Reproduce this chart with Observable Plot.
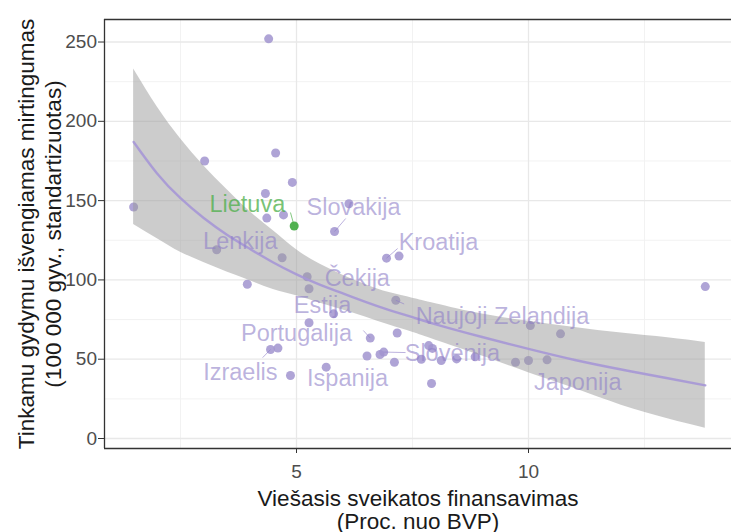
<!DOCTYPE html>
<html>
<head>
<meta charset="utf-8">
<script src="https://cdn.jsdelivr.net/npm/d3@7"></script>
<script src="https://cdn.jsdelivr.net/npm/@observablehq/plot@0.6"></script>
<style>
  html, body { margin: 0; padding: 0; background: #fff; overflow: hidden; }
  svg { display: block; }
</style>
</head>
<body>
<div id="chart"></div>
<script>
// Countries: public health spending (% of GDP) vs treatable mortality (per 100 000, standardised)
const spending  = [1.49, 3.02, 4.40, 4.55, 4.91, 4.33, 4.36, 4.72, 5.82, 6.13,
                   3.28, 4.69, 6.94, 7.21, 3.94, 5.23, 5.27, 5.80, 5.27, 7.14,
                   6.59, 7.17, 4.44, 4.60, 6.52, 6.80, 6.88, 7.11, 4.87, 5.64,
                   7.85, 7.93, 7.69, 8.12, 7.91, 8.45, 8.85, 9.72, 10.0, 10.40,
                   10.04, 10.69, 13.81];
const mortality = [146, 175, 252, 180, 161.5, 154.5, 139, 141, 130.5, 148,
                   119, 114, 113.7, 115, 97.3, 102, 94.4, 78.6, 73, 87.2,
                   63.3, 66.5, 56.1, 57, 52, 53, 54.5, 48.1, 39.7, 45,
                   58.6, 56.8, 50, 49.2, 34.7, 50.2, 51.5, 48.1, 49.2, 49.6,
                   71.2, 66, 95.8];

// Lithuania (highlighted)
const ltSpending  = [4.95];
const ltMortality = [134];

// Smoothed trend and its confidence band
const fitX  = [1.49, 2, 2.5, 3, 3.5, 4, 4.5, 5, 5.5, 6, 6.5, 7, 7.5, 8, 9, 10, 11, 12, 13, 13.81];
const fitY  = [187, 167, 151.5, 139, 128.5, 119.5, 111, 103.5, 97, 91.5, 86, 81, 76.5, 72, 64, 56.5, 49.5, 43.5, 38, 33.5];
const fitLo = [135, 126, 117.5, 111, 105, 99.5, 94, 90, 85.5, 81, 76.5, 71.5, 67, 62, 52, 41.5, 31.5, 21, 12.5, 6.5];
const fitHi = [233, 209, 189, 172, 157, 143, 131, 119, 110, 103, 97, 92, 88.5, 85, 78.5, 74, 70, 66.5, 63.5, 60.5];

// Country labels
const labelNames = ["Lietuva", "Slovakija", "Lenkija", "Kroatija", "Čekija", "Estija",
                    "Portugalija", "Izraelis", "Ispanija", "Slovėnija", "Naujoji Zelandija", "Japonija"];
const labelX = [3.94, 6.23, 3.79, 8.06, 6.31, 5.56, 5.00, 3.79, 6.10, 8.36, 9.44, 11.06];
const labelY = [147.8, 145.6, 124.2, 123.6, 100.6, 83.9, 66.2, 41.8, 37.8, 53.6, 77, 35.5];

// Leader segments (point -> label side)
const leaderNames = ["Lietuva", "Slovakija", "Kroatija", "Portugalija", "Izraelis", "Slovėnija", "Naujoji Zelandija"];
const leaderX1 = [4.95, 5.82, 6.94, 6.59, 4.44, 6.88, 7.14];
const leaderY1 = [134, 130.5, 113.7, 63.3, 56.1, 54.5, 87.2];
const leaderX2 = [4.87, 6.06, 7.18, 6.44, 4.27, 7.35, 7.32];
const leaderY2 = [142.5, 138.7, 119.8, 68.1, 51, 54.2, 84.8];

// Axes
const xTicks = [5, 10];
const xMinor = [2.5, 7.5, 12.5];
const yTicks = [0, 50, 100, 150, 200, 250];
const yMinor = [25, 75, 125, 175, 225];
const xDomain = [0.862, 14.375];
const yDomain = [-6.3, 264.2];

const xTitle = ["Viešasis sveikatos finansavimas", "(Proc. nuo BVP)"];
const yTitle = ["Tinkamu gydymu išvengiamas mirtingumas", "(100 000 gyv., standartizuotas)"];

// Build tables
const points  = spending.map((x, i) => ({x, y: mortality[i]}));
const lt      = ltSpending.map((x, i) => ({x, y: ltMortality[i]}));
const fit     = fitX.map((x, i) => ({x, y: fitY[i], lo: fitLo[i], hi: fitHi[i]}));
const labels  = labelNames.map((name, i) => ({name, x: labelX[i], y: labelY[i]}));
const leaders = leaderNames.map((name, i) => ({name, x1: leaderX1[i], y1: leaderY1[i], x2: leaderX2[i], y2: leaderY2[i]}));

const purpleText = "#8f7fc8";
const greenText = "#4daf4a";

const chart = Plot.plot({
  width: 731,
  height: 532,
  marginLeft: 104,
  marginRight: 0,
  marginTop: 19,
  marginBottom: 84,
  x: {domain: xDomain},
  y: {domain: yDomain},
  style: {fontFamily: '"Liberation Sans", Arial, sans-serif', background: "#fff", color: "#4d4d4d"},
  marks: [
    // grid
    Plot.ruleY(yMinor, {stroke: "#f0f0f0", strokeWidth: 0.9}),
    Plot.ruleX(xMinor, {stroke: "#f0f0f0", strokeWidth: 0.9}),
    Plot.ruleY(yTicks, {stroke: "#e8e8e8", strokeWidth: 1.3}),
    Plot.ruleX(xTicks, {stroke: "#e8e8e8", strokeWidth: 1.3}),
    // points
    Plot.dot(points, {x: "x", y: "y", r: 4.5, fill: "#a194cf", fillOpacity: 0.85, stroke: "none"}),
    Plot.dot(lt, {x: "x", y: "y", r: 4.5, fill: "#3ea83e", fillOpacity: 0.9, stroke: "none"}),
    // smooth band + line
    Plot.areaY(fit, {x: "x", y1: "lo", y2: "hi", fill: "#999", fillOpacity: 0.5, curve: "natural"}),
    Plot.line(fit, {x: "x", y: "y", stroke: "#a697d6", strokeWidth: 2.4, strokeOpacity: 0.9, curve: "natural"}),
    // leader lines
    Plot.link(leaders.filter(d => d.name !== "Lietuva"), {x1: "x1", y1: "y1", x2: "x2", y2: "y2", stroke: purpleText, strokeOpacity: 0.6, strokeWidth: 1}),
    Plot.link(leaders.filter(d => d.name === "Lietuva"), {x1: "x1", y1: "y1", x2: "x2", y2: "y2", stroke: greenText, strokeOpacity: 0.7, strokeWidth: 1}),
    // labels
    Plot.text(labels.filter(d => d.name !== "Lietuva"), {x: "x", y: "y", text: "name", fontSize: 23.5, fill: purpleText, fillOpacity: 0.6}),
    Plot.text(labels.filter(d => d.name === "Lietuva"), {x: "x", y: "y", text: "name", fontSize: 23.5, fill: greenText, fillOpacity: 0.75}),
    // panel border (left, top, bottom)
    Plot.ruleX([xDomain[0]], {stroke: "#333", strokeWidth: 1.3}),
    Plot.ruleY([yDomain[0]], {stroke: "#333", strokeWidth: 1.3}),
    Plot.ruleY([yDomain[1]], {stroke: "#333", strokeWidth: 1.3}),
    // axes
    Plot.axisX({ticks: xTicks, tickSize: 5, tickPadding: 11, fontSize: 19, label: null, stroke: "#333", fill: "#4d4d4d"}),
    Plot.axisY({ticks: yTicks, tickSize: 6, tickPadding: 1.5, fontSize: 19, label: null, stroke: "#333", fill: "#4d4d4d"}),
    // axis titles
    Plot.text([xTitle[0]], {frameAnchor: "bottom", dy: 57, textAnchor: "middle", lineAnchor: "bottom", fontSize: 22.5, fill: "#1a1a1a"}),
    Plot.text([xTitle[1]], {frameAnchor: "bottom", dy: 80, textAnchor: "middle", lineAnchor: "bottom", fontSize: 22.5, fill: "#1a1a1a"}),
    Plot.text([yTitle[0]], {frameAnchor: "left", dx: -71, rotate: -90, textAnchor: "middle", lineAnchor: "bottom", fontSize: 22.5, fill: "#1a1a1a"}),
    Plot.text([yTitle[1]], {frameAnchor: "left", dx: -44, rotate: -90, textAnchor: "middle", lineAnchor: "bottom", fontSize: 22.5, fill: "#1a1a1a"})
  ]
});

document.getElementById("chart").appendChild(chart);
</script>
</body>
</html>
